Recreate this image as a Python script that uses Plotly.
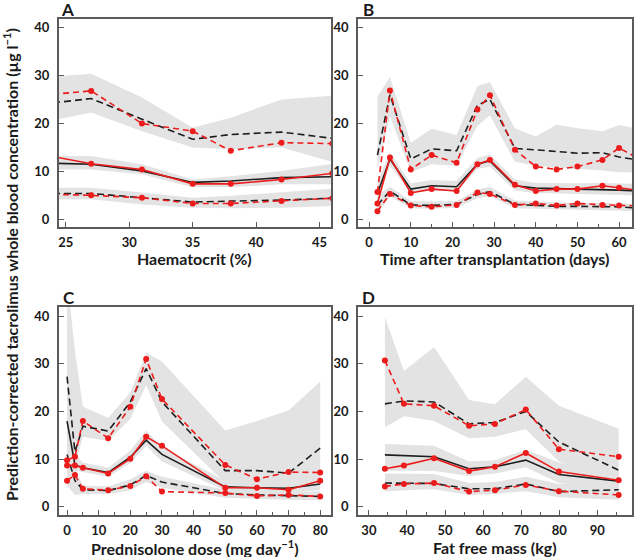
import plotly.graph_objects as go

# ---------------- Panel A: Haematocrit ----------------
a_x = [24, 27, 31, 35, 38, 42, 46]
a_obs_p95 = [26.1, 26.8, 20.0, 18.4, 14.3, 16.0, 15.8]
a_obs_p50 = [13.1, 11.6, 10.4, 7.4, 7.4, 8.3, 9.6]
a_obs_p05 = [5.2, 5.0, 4.5, 3.3, 3.3, 3.8, 4.4]
a_pred_p95 = [24.3, 25.2, 20.9, 16.7, 17.7, 18.2, 16.9]
a_pred_p50 = [11.7, 11.5, 10.1, 7.7, 8.0, 8.7, 8.9]
a_pred_p05 = [5.4, 5.4, 4.5, 3.6, 3.8, 4.0, 4.4]
a_ci95_lo = [20.7, 22.3, 18.4, 15.0, 14.6, 15.0, 12.0]
a_ci95_hi = [29.8, 30.4, 25.4, 19.1, 21.2, 25.0, 25.8]
a_ci50_lo = [10.4, 10.4, 9.4, 6.7, 6.7, 7.3, 7.3]
a_ci50_hi = [13.2, 13.2, 11.5, 8.3, 9.0, 10.1, 11.6]
a_ci05_lo = [4.2, 4.2, 3.1, 2.4, 2.3, 2.4, 2.8]
a_ci05_hi = [6.6, 6.6, 5.6, 4.5, 4.9, 5.6, 6.4]

# ---------------- Panel B: Time after transplantation ----------------
b_x = [2, 5, 10, 15, 21, 26, 29, 35, 40, 45, 50, 56, 60, 65]
b_obs_p95 = [5.7, 26.9, 10.4, 13.4, 11.8, 22.9, 25.9, 14.5, 11.0, 10.4, 11.0, 12.4, 14.9, 12.5]
b_obs_p50 = [3.3, 12.9, 5.5, 6.3, 5.9, 11.5, 12.4, 7.2, 5.9, 6.3, 6.3, 7.0, 6.6, 6.0]
b_obs_p05 = [1.7, 5.3, 2.9, 2.6, 3.0, 5.6, 5.3, 3.0, 3.3, 2.9, 3.3, 3.0, 2.9, 2.8]
b_pred_p95 = [13.4, 26.0, 12.6, 14.7, 14.3, 23.8, 25.0, 14.8, 14.5, 14.2, 13.8, 13.9, 13.0, 12.3]
b_pred_p50 = [5.4, 12.6, 6.3, 7.0, 6.8, 11.5, 12.2, 7.0, 6.5, 6.4, 6.4, 6.3, 6.1, 5.9]
b_pred_p05 = [3.0, 5.9, 3.0, 2.9, 3.1, 5.2, 5.8, 3.1, 2.9, 2.7, 2.7, 2.7, 2.6, 2.3]
b_ci95_lo = [10.5, 21.5, 9.8, 11.5, 11.2, 19.5, 21.7, 12.0, 11.2, 10.8, 10.5, 10.2, 9.8, 9.8]
b_ci95_hi = [25.6, 29.7, 16.0, 18.9, 17.6, 27.8, 28.6, 19.0, 17.3, 19.8, 19.0, 18.4, 19.7, 18.8]
b_ci50_lo = [4.0, 11.2, 5.5, 6.0, 5.8, 10.5, 11.0, 6.0, 5.5, 5.4, 5.3, 5.2, 5.1, 5.0]
b_ci50_hi = [8.0, 14.0, 7.5, 8.2, 8.0, 12.8, 13.5, 8.3, 7.6, 7.5, 7.5, 7.6, 7.5, 7.4]
b_ci05_lo = [1.2, 4.8, 2.3, 2.2, 2.4, 4.4, 4.8, 2.3, 2.2, 2.0, 1.9, 1.9, 1.8, 1.7]
b_ci05_hi = [5.0, 6.8, 3.8, 3.7, 3.8, 6.2, 6.8, 3.9, 3.7, 3.5, 3.4, 3.4, 3.3, 3.2]

# ---------------- Panel C: Prednisolone dose ----------------
c_x = [0, 2.5, 5, 13, 20, 25, 30, 50, 60, 70, 80]
c_obs_p95 = [9.8, 10.5, 18.0, 14.4, 21.0, 31.0, 22.6, 8.8, 5.8, 7.3, 7.2]
c_obs_p50 = [8.7, 8.7, 8.2, 7.0, 10.1, 14.7, 12.8, 4.0, 4.0, 3.6, 5.5]
c_obs_p05 = [5.5, 6.7, 3.8, 3.5, 4.4, 6.4, 3.2, 2.9, 2.3, 2.5, 2.2]
c_pred_p95 = [27.3, 11.5, 16.9, 15.9, 22.0, 29.0, 22.0, 7.6, 7.6, 7.1, 12.3]
c_pred_p50 = [18.0, 8.8, 8.2, 7.2, 10.4, 14.0, 11.0, 4.2, 4.0, 3.9, 4.8]
c_pred_p05 = [11.0, 5.5, 3.6, 3.4, 4.6, 6.6, 5.2, 2.8, 2.5, 2.3, 2.2]
c_ci95_lo = [12.0, 8.5, 14.7, 13.8, 18.5, 25.5, 17.9, 5.0, 4.6, 4.4, 4.6]
c_ci95_hi = [48.0, 32.7, 21.0, 18.7, 24.0, 32.3, 30.5, 16.0, 18.0, 20.2, 26.3]
c_ci50_lo = [9.0, 7.5, 7.3, 6.3, 9.2, 12.8, 9.5, 3.4, 3.2, 3.0, 3.5]
c_ci50_hi = [26.0, 11.0, 9.3, 8.2, 11.8, 16.0, 12.5, 5.5, 5.2, 5.0, 7.0]
c_ci05_lo = [4.5, 2.5, 2.7, 2.7, 3.5, 5.2, 4.0, 1.9, 1.7, 1.5, 1.4]
c_ci05_hi = [14.0, 8.0, 4.5, 4.3, 5.8, 7.6, 6.3, 3.6, 3.3, 3.1, 3.3]

# ---------------- Panel D: Fat free mass ----------------
d_x = [34.2, 39.2, 47.1, 56.3, 63.1, 71.2, 79.9, 95.6]
d_obs_p95 = [30.7, 21.6, 21.2, 17.0, 17.4, 20.4, 12.1, 10.5]
d_obs_p50 = [8.0, 8.7, 10.2, 7.5, 8.4, 11.3, 7.4, 5.6]
d_obs_p05 = [4.3, 4.8, 5.0, 3.2, 3.5, 4.6, 3.3, 2.5]
d_pred_p95 = [21.6, 22.2, 22.0, 17.4, 17.7, 20.0, 13.6, 7.7]
d_pred_p50 = [10.9, 10.8, 10.5, 8.0, 8.4, 9.8, 6.8, 5.4]
d_pred_p05 = [5.0, 5.0, 4.9, 3.8, 3.8, 4.8, 3.2, 3.6]
d_ci95_lo = [16.7, 19.0, 18.0, 14.4, 14.7, 16.3, 9.5, 5.5]
d_ci95_hi = [39.8, 28.5, 33.5, 22.4, 21.5, 27.3, 21.2, 16.4]
d_ci50_lo = [7.5, 7.6, 7.5, 6.5, 7.0, 8.3, 5.0, 3.5]
d_ci50_hi = [13.2, 13.0, 12.8, 9.5, 9.8, 12.0, 9.3, 7.5]
d_ci05_lo = [3.2, 3.5, 3.7, 2.5, 2.7, 3.3, 2.0, 1.5]
d_ci05_hi = [7.0, 7.0, 6.9, 5.0, 5.2, 6.3, 4.8, 5.0]

y_ticks = [0, 10, 20, 30, 40]

GRAY = "#e3e3e3"
RED = "#ec1c1c"
BLACK = "#1e1e1e"
FONT = "Lato"

panels = [
    dict(xa="x", ya="y", x=a_x, o95=a_obs_p95, o50=a_obs_p50, o05=a_obs_p05,
         p95=a_pred_p95, p50=a_pred_p50, p05=a_pred_p05,
         bands=[(a_ci95_lo, a_ci95_hi), (a_ci50_lo, a_ci50_hi), (a_ci05_lo, a_ci05_hi)]),
    dict(xa="x2", ya="y2", x=b_x, o95=b_obs_p95, o50=b_obs_p50, o05=b_obs_p05,
         p95=b_pred_p95, p50=b_pred_p50, p05=b_pred_p05,
         bands=[(b_ci95_lo, b_ci95_hi), (b_ci50_lo, b_ci50_hi), (b_ci05_lo, b_ci05_hi)]),
    dict(xa="x3", ya="y3", x=c_x, o95=c_obs_p95, o50=c_obs_p50, o05=c_obs_p05,
         p95=c_pred_p95, p50=c_pred_p50, p05=c_pred_p05,
         bands=[(c_ci95_lo, c_ci95_hi), (c_ci50_lo, c_ci50_hi), (c_ci05_lo, c_ci05_hi)]),
    dict(xa="x4", ya="y4", x=d_x, o95=d_obs_p95, o50=d_obs_p50, o05=d_obs_p05,
         p95=d_pred_p95, p50=d_pred_p50, p05=d_pred_p05,
         bands=[(d_ci95_lo, d_ci95_hi), (d_ci50_lo, d_ci50_hi), (d_ci05_lo, d_ci05_hi)]),
]

fig = go.Figure()
for p in panels:
    xs = p["x"]
    for lo, hi in p["bands"]:
        fig.add_trace(go.Scatter(
            x=list(xs) + list(xs)[::-1], y=list(hi) + list(lo)[::-1],
            fill="toself", fillcolor=GRAY, line=dict(width=0), mode="lines",
            hoverinfo="skip", showlegend=False, xaxis=p["xa"], yaxis=p["ya"]))
    for key, dash in (("p95", "7px,4px"), ("p05", "7px,4px"), ("p50", "solid")):
        fig.add_trace(go.Scatter(
            x=xs, y=p[key], mode="lines",
            line=dict(color=BLACK, width=1.6, dash=dash),
            showlegend=False, xaxis=p["xa"], yaxis=p["ya"]))
    for key, dash in (("o95", "6px,4px"), ("o05", "6px,4px"), ("o50", "solid")):
        fig.add_trace(go.Scatter(
            x=xs, y=p[key], mode="lines+markers",
            line=dict(color=RED, width=1.6, dash=dash),
            marker=dict(color=RED, size=6),
            showlegend=False, xaxis=p["xa"], yaxis=p["ya"]))

W, H = 634, 557
dom_left = [58 / W, 331 / W]
dom_right = [358 / W, 633 / W]
dom_top = [1 - 226.5 / H, 1 - 19 / H]
dom_bot = [1 - 515 / H, 1 - 307 / H]

tickfont = dict(family=FONT, size=13, color="#1a1a1a", weight="bold")
axis_common = dict(showline=True, mirror=True, linecolor="#5a5a5a", linewidth=1.6,
                   ticks="inside", ticklen=5, tickcolor="#5a5a5a", tickwidth=1,
                   showgrid=False, zeroline=False, tickfont=tickfont,
                   ticklabelstandoff=3)


def xax(domain, anchor, rng, dtick, minor_dtick=None):
    d = dict(axis_common, domain=domain, anchor=anchor, range=rng, dtick=dtick, tick0=0)
    if minor_dtick:
        d["minor"] = dict(dtick=minor_dtick, ticks="inside", ticklen=3,
                          tickcolor="#5a5a5a", showgrid=False)
    return d


def yax(domain, anchor, rng):
    d = dict(axis_common, domain=domain, anchor=anchor, range=rng,
             tickvals=y_ticks)
    d["ticklabelstandoff"] = 5
    return d


fig.update_layout(
    width=W, height=H, margin=dict(l=0, r=0, t=0, b=0),
    paper_bgcolor="white", plot_bgcolor="white", showlegend=False,
    xaxis=xax(dom_left, "y", [24.45, 45.9], 5),
    yaxis=yax(dom_top, "x", [-1.5, 41.8]),
    xaxis2=xax(dom_right, "y2", [-2.7, 63.1], 10, 5),
    yaxis2=yax(dom_top, "x2", [-1.5, 41.8]),
    xaxis3=xax(dom_left, "y3", [-2.6, 83.4], 10, 5),
    yaxis3=yax(dom_bot, "x3", [-1.7, 41.9]),
    xaxis4=xax(dom_right, "y4", [27.1, 99.1], 10, 5),
    yaxis4=yax(dom_bot, "x4", [-1.7, 41.9]),
)

title_font = dict(family=FONT, size=16, color="#1a1a1a", weight="bold")
label_font = dict(family=FONT, size=17, color="#1a1a1a", weight="bold")


def ann(text, px, py, font, angle=0):
    fig.add_annotation(text=text, x=px / W, y=1 - py / H, xref="paper", yref="paper",
                       xanchor="center", yanchor="middle", showarrow=False,
                       font=font, textangle=angle)


ann("Haematocrit (%)", 194.5, 258, title_font)
ann("Time after transplantation (days)", 495.5, 258, title_font)
ann("Prednisolone dose (mg day<sup>−1</sup>)", 194.5, 547, title_font)
ann("Fat free mass (kg)", 495.5, 547, title_font)
ann("Prediction-corrected tacrolimus whole blood concentration (µg l<sup>−1</sup>)",
    9, 264, title_font, -90)
ann("A", 67, 10, label_font)
ann("B", 369, 10, label_font)
ann("C", 68, 297, label_font)
ann("D", 369, 297, label_font)

fig.write_html("out.html", config={"displayModeBar": False},
               post_script="document.body.style.margin='0';document.body.style.padding='0';")
